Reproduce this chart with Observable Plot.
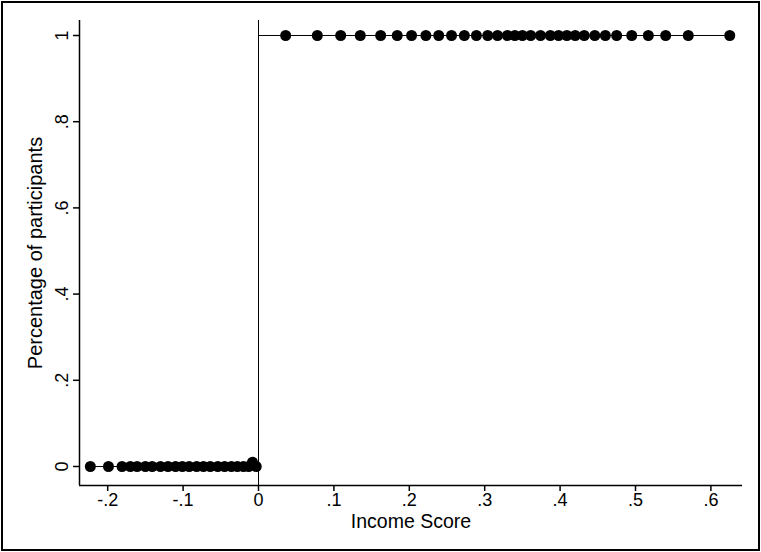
<!DOCTYPE html>
<html>
<head>
<meta charset="utf-8">
<script src="https://cdn.jsdelivr.net/npm/d3@7"></script>
<script src="https://cdn.jsdelivr.net/npm/@observablehq/plot@0.6"></script>
<style>
  html, body { margin: 0; padding: 0; background: #fff; }
  #chart svg { display: block; outline: 2px solid #000; outline-offset: -3px; }
</style>
</head>
<body>
<div id="chart"></div>
<script>
// Participants below the cutoff (y = 0), income scores
const belowX = [-0.223, -0.199, -0.181, -0.170, -0.161, -0.150, -0.141, -0.130, -0.120, -0.110,
  -0.101, -0.092, -0.082, -0.073, -0.064, -0.054, -0.045, -0.036, -0.028, -0.020, -0.013, -0.008, -0.003];
const belowY = [0, 0, 0, 0, 0, 0, 0, 0, 0, 0, 0, 0, 0, 0, 0, 0, 0, 0, 0, 0, 0, 0.01, 0];
// Participants above the cutoff (y = 1)
const aboveX = [0.036, 0.078, 0.109, 0.135, 0.162, 0.184, 0.203, 0.222, 0.239, 0.256, 0.273,
  0.289, 0.304, 0.317, 0.330, 0.340, 0.350, 0.361, 0.374, 0.387, 0.398, 0.409, 0.420, 0.432,
  0.446, 0.460, 0.475, 0.495, 0.517, 0.540, 0.570, 0.625];
const aboveY = aboveX.map(() => 1);
// fitted step lines
const fitX1 = [-0.223, 0];
const fitX2 = [0, 0.625];
const fitY = [0, 1];
const cutoff = [0];
const xTicks = [-0.2, -0.1, 0, 0.1, 0.2, 0.3, 0.4, 0.5, 0.6];
const yTicks = [0, 0.2, 0.4, 0.6, 0.8, 1];
const xDomain = [-0.2374, 0.6419];
const yDomain = [-0.0441, 1.0348];
const xTitle = "Income Score";
const yTitle = "Percentage of participants";

const fmt = d => d === 0 ? "0" : String(d).replace("0.", ".");
const points = belowX.map((x, i) => ({x, y: belowY[i]}))
  .concat(aboveX.map((x, i) => ({x, y: aboveY[i]})));
const fits = fitY.map((y, i) => ({x1: fitX1[i], x2: fitX2[i], y}));

const font = "Arial, 'Liberation Sans', sans-serif";
const chart = Plot.plot({
  width: 761,
  height: 552,
  marginLeft: 79,
  marginRight: 19,
  marginTop: 20,
  marginBottom: 67,
  style: {fontFamily: font, fontSize: "18px", color: "#000", background: "#fff"},
  x: {domain: xDomain},
  y: {domain: yDomain},
  marks: [
    Plot.ruleX([xDomain[0]], {stroke: "#000", strokeWidth: 1.5}),
    Plot.ruleY([yDomain[0]], {stroke: "#000", strokeWidth: 1.5}),
    Plot.axisX(xTicks, {tickSize: 6, tickPadding: 2, tickFormat: fmt, fontSize: 18, label: null, strokeWidth: 1.5}),
    Plot.axisY(yTicks, {tickSize: 6, tickFormat: () => "", label: null, strokeWidth: 1.5}),
    Plot.text(yTicks, {y: d => d, frameAnchor: "left", dx: -17, rotate: -90, text: fmt, fontSize: 18, fill: "#000", textAnchor: "middle", lineAnchor: "middle"}),
    Plot.text([xTitle], {frameAnchor: "bottom", dy: 36, fontSize: 19.5, fill: "#000", textAnchor: "middle", lineAnchor: "middle"}),
    Plot.text([yTitle], {frameAnchor: "left", dx: -44, rotate: -90, fontSize: 20, fill: "#000", textAnchor: "middle", lineAnchor: "middle"}),
    Plot.ruleX(cutoff, {stroke: "#000", strokeWidth: 1}),
    Plot.ruleY(fits, {y: "y", x1: "x1", x2: "x2", stroke: "#000", strokeWidth: 1}),
    Plot.dot(points, {x: "x", y: "y", r: 5.5, fill: "#000", stroke: null})
  ]
});
document.getElementById("chart").append(chart);
</script>
</body>
</html>
